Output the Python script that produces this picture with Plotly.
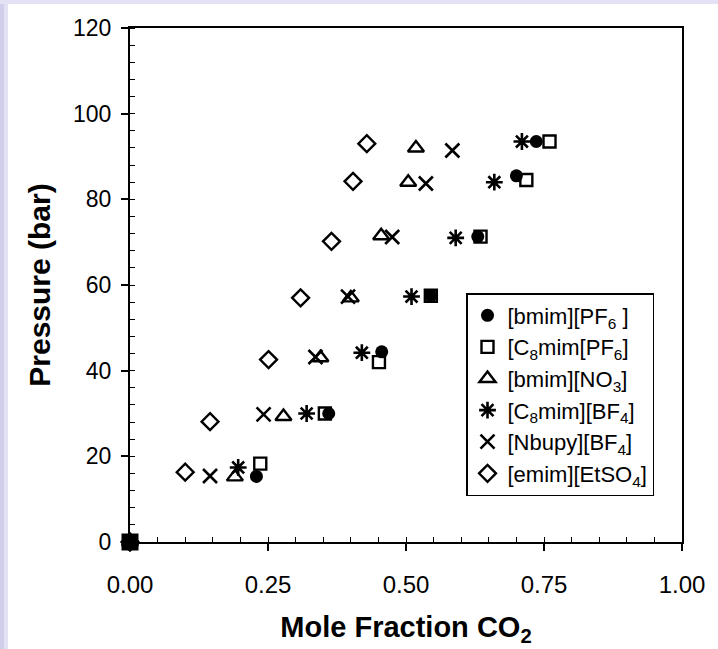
import plotly.graph_objects as go

# ---- data ----
names = [
    "[bmim][PF<sub>6</sub> ]",
    "[C<sub>8</sub>mim[PF<sub>6</sub>]",
    "[bmim][NO<sub>3</sub>]",
    "[C<sub>8</sub>mim][BF<sub>4</sub>]",
    "[Nbupy][BF<sub>4</sub>]",
    "[emim][EtSO<sub>4</sub>]",
]

bmim_pf6_x = [0.0, 0.229, 0.360, 0.456, 0.545, 0.630, 0.700, 0.736]
bmim_pf6_y = [0.0, 15.3, 30.0, 44.4, 57.5, 71.3, 85.5, 93.5]

c8mim_pf6_x = [0.0, 0.236, 0.353, 0.451, 0.545, 0.635, 0.718, 0.760]
c8mim_pf6_y = [0.0, 18.3, 30.0, 42.0, 57.5, 71.3, 84.5, 93.5]

bmim_no3_x = [0.0, 0.190, 0.278, 0.345, 0.400, 0.455, 0.504, 0.518]
bmim_no3_y = [0.0, 15.2, 29.3, 43.0, 57.0, 71.5, 84.0, 92.0]

c8mim_bf4_x = [0.0, 0.196, 0.320, 0.420, 0.510, 0.590, 0.660, 0.710]
c8mim_bf4_y = [0.0, 17.4, 30.0, 44.2, 57.3, 71.0, 84.0, 93.5]

nbupy_bf4_x = [0.0, 0.145, 0.242, 0.336, 0.395, 0.475, 0.536, 0.584]
nbupy_bf4_y = [0.0, 15.4, 29.8, 43.2, 57.3, 71.2, 83.7, 91.4]

emim_etso4_x = [0.0, 0.100, 0.145, 0.251, 0.309, 0.365, 0.404, 0.429]
emim_etso4_y = [0.0, 16.3, 28.1, 42.6, 57.0, 70.2, 84.2, 93.0]

x_ticks = [0.0, 0.25, 0.5, 0.75, 1.0]
x_ticklabels = ["0.00", "0.25", "0.50", "0.75", "1.00"]
y_ticks = [0, 20, 40, 60, 80, 100, 120]

series_x = [bmim_pf6_x, c8mim_pf6_x, bmim_no3_x, c8mim_bf4_x, nbupy_bf4_x, emim_etso4_x]
series_y = [bmim_pf6_y, c8mim_pf6_y, bmim_no3_y, c8mim_bf4_y, nbupy_bf4_y, emim_etso4_y]

# ---- styles ----
FONT = "Liberation Sans, Arial, Helvetica, sans-serif"
styles = [
    dict(symbol=["square"] + ["circle"] * 7, size=[17] + [13] * 7, color="black",
         opacity=1, line=dict(width=0)),
    dict(symbol="square-open", size=12, color="black", opacity=1, line=dict(width=2.4, color="black")),
    dict(symbol="triangle-up-open", size=14, color="black", opacity=1, line=dict(width=2.4, color="black")),
    dict(symbol="asterisk-open", size=14, color="black", opacity=1, line=dict(width=2.6, color="black")),
    dict(symbol="x-thin-open", size=14, color="black", opacity=1, line=dict(width=2.6, color="black")),
    dict(symbol="diamond-open", size=13, color="black", opacity=1, line=dict(width=2.4, color="black")),
]

fig = go.Figure()
# draw the filled-marker series last so it sits on top (origin blob)
order = [1, 2, 3, 4, 5, 0]
for i in order:
    fig.add_trace(go.Scatter(
        x=series_x[i], y=series_y[i], mode="markers", name=names[i], marker=styles[i],
        cliponaxis=False, legendgroup=f"g{i}", legendrank=i + 2, showlegend=(i != 0)))
# legend entry for first series with circle symbol
fig.add_trace(go.Scatter(
    x=[None], y=[None], mode="markers", name=names[0],
    marker=dict(symbol="circle", size=13, color="black", opacity=1),
    legendgroup="g0", legendrank=1))

L, R, T, B = 130, 36, 28, 107
W, H = 718, 649
pw, ph = W - L - R, H - T - B

def px_x(p):
    return (p - L) / pw

def px_y(p):
    return (H - B - p) / ph

shapes = [
    dict(type="rect", xref="paper", yref="paper", x0=px_x(0), x1=px_x(4),
         y0=px_y(H), y1=px_y(0), fillcolor="#cfcfea", line=dict(width=0), layer="below"),
    dict(type="rect", xref="paper", yref="paper", x0=px_x(4), x1=px_x(8),
         y0=px_y(H), y1=px_y(0), fillcolor="#e2e2f4", line=dict(width=0), layer="below"),
    dict(type="rect", xref="paper", yref="paper", x0=px_x(0), x1=px_x(W),
         y0=px_y(4), y1=px_y(0), fillcolor="#e2e2f4", line=dict(width=0), layer="below"),
]

fig.update_layout(
    width=W, height=H,
    margin=dict(l=L, r=R, t=T, b=B, pad=0),
    paper_bgcolor="white", plot_bgcolor="white",
    font=dict(family=FONT, color="black"),
    shapes=shapes,
    showlegend=True,
    legend=dict(
        x=px_x(466), y=px_y(293), xanchor="left", yanchor="top",
        bgcolor="white", bordercolor="black", borderwidth=1.5,
        font=dict(size=22, family=FONT, color="black"),
        tracegroupgap=6, itemsizing="trace", traceorder="normal",
    ),
    xaxis=dict(
        range=[0, 1.0], tickvals=x_ticks, ticktext=x_ticklabels,
        showgrid=False, zeroline=False,
        showline=True, linecolor="black", linewidth=2, mirror=True,
        ticks="outside", ticklen=7, tickwidth=1.5, tickcolor="black",
        minor=dict(dtick=0.05, ticks="inside", ticklen=5, tickwidth=1.2, tickcolor="black", showgrid=False),
        tickfont=dict(size=24, family=FONT, color="black"),
        ticklabelstandoff=13,
        title=dict(text="<b>Mole Fraction CO<sub>2</sub></b>",
                   font=dict(size=29, family=FONT, color="black"), standoff=20),
    ),
    yaxis=dict(
        range=[0, 120], tickvals=y_ticks,
        showgrid=False, zeroline=False,
        showline=True, linecolor="black", linewidth=2, mirror=True,
        ticks="outside", ticklen=7, tickwidth=1.5, tickcolor="black",
        minor=dict(dtick=4, ticks="inside", ticklen=5, tickwidth=1.2, tickcolor="black", showgrid=False),
        tickfont=dict(size=23, family=FONT, color="black"),
        ticklabelstandoff=5,
        title=dict(text="<b>Pressure (bar)</b>",
                   font=dict(size=30, family=FONT, color="black"), standoff=14),
    ),
)

fig.write_html("out.html")
